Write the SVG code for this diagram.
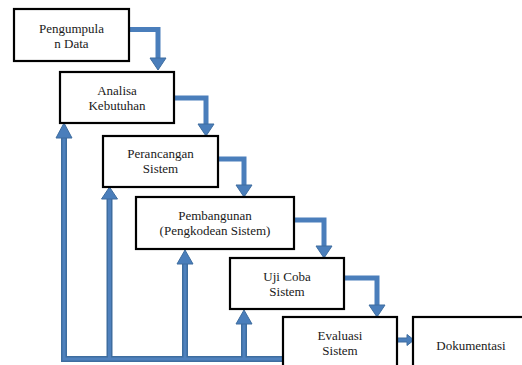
<svg xmlns="http://www.w3.org/2000/svg" width="522" height="365" viewBox="0 0 522 365">
<style>
.box{fill:#fff;stroke:#000;stroke-width:2.2}
text{font-family:'Liberation Serif','DejaVu Serif',serif;font-size:13px;fill:#1a1a1a;text-anchor:middle}
.ln{fill:none;stroke:#4A7EBB;stroke-width:5;stroke-linejoin:miter}
.fb{fill:none;stroke:#3E6D9F;stroke-width:6;stroke-linejoin:miter}
.fbi{fill:none;stroke:#4F81BD;stroke-width:3;stroke-linejoin:miter}
.hd{fill:#4A7EBB;stroke:#3E6D9F;stroke-width:1}
</style>
<rect width="522" height="365" fill="#fff"/>
<g id="connectors">
  <path class="ln" d="M129,29.5 H158 V58"/>
  <polygon class="hd" points="150,58 166,58 158,70"/>
  <path class="ln" d="M174,98 H206 V124"/>
  <polygon class="hd" points="198,124 214,124 206,136"/>
  <path class="ln" d="M218,159 H244 V185"/>
  <polygon class="hd" points="236,185 252,185 244,197"/>
  <path class="ln" d="M294,220 H324 V246"/>
  <polygon class="hd" points="316,246 332,246 324,258"/>
  <path class="ln" d="M344,278 H377 V305"/>
  <polygon class="hd" points="369,305 385,305 377,317"/>
  <path class="fb" d="M64,138 V359 H284 M109.5,199 V359 M185,264 V359 M244,324 V359"/>
  <path class="fbi" d="M64,138 V359 H284 M109.5,199 V359 M185,264 V359 M244,324 V359"/>
  <polygon class="hd" points="56,138 72,138 64,123"/>
  <polygon class="hd" points="101.5,199 117.5,199 109.5,187"/>
  <polygon class="hd" points="177,264 193,264 185,250"/>
  <polygon class="hd" points="236,324 252,324 244,310"/>
  <polygon class="hd" points="397,338 407,338 407,334.5 414,340 407,345.5 407,342 397,342"/>
</g>
<g id="n1"><rect class="box" x="14" y="9" width="115" height="52"/><text font-family="Liberation Serif, serif" x="71.5" y="33">Pengumpula</text><text font-family="Liberation Serif, serif" x="71.5" y="48">n Data</text></g>
<g id="n2"><rect class="box" x="60" y="72" width="114" height="51"/><text font-family="Liberation Serif, serif" x="117" y="95">Analisa</text><text font-family="Liberation Serif, serif" x="117" y="110">Kebutuhan</text></g>
<g id="n3"><rect class="box" x="103" y="136" width="115" height="51"/><text font-family="Liberation Serif, serif" x="160.5" y="158">Perancangan</text><text font-family="Liberation Serif, serif" x="160.5" y="173">Sistem</text></g>
<g id="n4"><rect class="box" x="136" y="197" width="158" height="52"/><text font-family="Liberation Serif, serif" x="215" y="220">Pembangunan</text><text font-family="Liberation Serif, serif" x="215" y="235">(Pengkodean Sistem)</text></g>
<g id="n5"><rect class="box" x="230" y="258" width="114" height="51"/><text font-family="Liberation Serif, serif" x="287" y="281">Uji Coba</text><text font-family="Liberation Serif, serif" x="287" y="296">Sistem</text></g>
<g id="n6"><rect class="box" x="283" y="317" width="114" height="60"/><text font-family="Liberation Serif, serif" x="340" y="340">Evaluasi</text><text font-family="Liberation Serif, serif" x="340" y="355">Sistem</text></g>
<g id="n7"><rect class="box" x="413" y="317" width="120" height="60"/><text font-family="Liberation Serif, serif" x="471" y="350">Dokumentasi</text></g>
</svg>
